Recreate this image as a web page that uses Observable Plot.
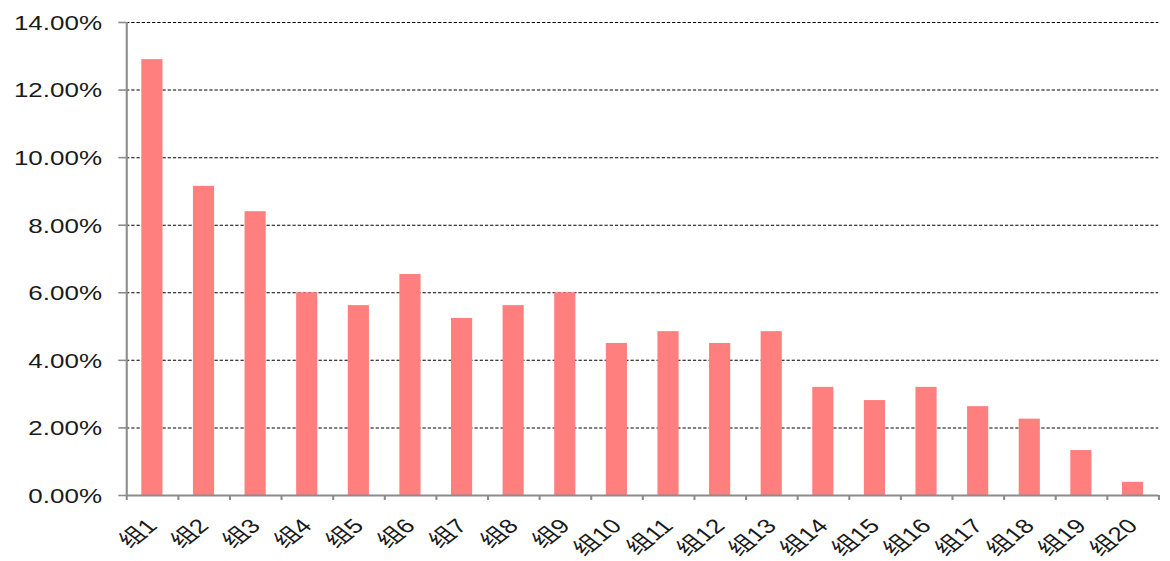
<!DOCTYPE html>
<html><head><meta charset="utf-8">
<script src="https://cdn.jsdelivr.net/npm/d3@7"></script>
<script src="https://cdn.jsdelivr.net/npm/@observablehq/plot@0.6"></script>
<style>body{margin:0;background:#fff}</style>
</head><body><div id="chart"></div>
<script>
const categories = ["组1","组2","组3","组4","组5","组6","组7","组8","组9","组10","组11","组12","组13","组14","组15","组16","组17","组18","组19","组20"];
const values = [12.9, 9.15, 8.4, 6.0, 5.62, 6.54, 5.24, 5.62, 6.0, 4.5, 4.85, 4.5, 4.85, 3.2, 2.81, 3.2, 2.63, 2.26, 1.33, 0.39];
const yTicks = [0, 2, 4, 6, 8, 10, 12, 14];

const data = categories.map((c, i) => ({group: c, value: values[i] / 100}));

const W = 900, H = 561, OUT_W = 1170;
const mL = 97, mR = 9, mT = 22, mB = 66;
const step = (W - mL - mR) / categories.length;
const plotW = W - mL - mR;
const axisColor = "#8c8c8c";

const chart = Plot.plot({
  width: W, height: H,
  marginLeft: mL, marginRight: mR, marginTop: mT, marginBottom: mB,
  style: {fontFamily: "'Liberation Sans', Arial, 'Noto Sans CJK SC', sans-serif", fontSize: "20px", color: "#1a1a1a", background: "#fff"},
  x: {domain: categories, paddingInner: 0.59, paddingOuter: 0.295, round: false, axis: null},
  y: {domain: [0, 0.14], axis: null},
  marks: [
    Plot.ruleY(yTicks.slice(1), {y: d => d / 100, stroke: "#000", strokeWidth: 1, strokeDasharray: "2.5,1.5"}),
    Plot.barY(data, {x: "group", y: "value", fill: "#FF7F7F"}),
    // y axis line and ticks
    Plot.ruleX([categories[0]], {x: d => d, dx: -step / 2, stroke: axisColor, strokeWidth: 1.6}),
    Plot.ruleY(yTicks, {y: d => d / 100, insetLeft: -6, insetRight: plotW, stroke: axisColor, strokeWidth: 1.6}),
    // x axis line and ticks
    Plot.ruleY([0], {stroke: axisColor, strokeWidth: 2.2}),
    Plot.ruleX(categories, {x: d => d, dx: -step / 2, y1: 0, y2: 0, insetBottom: -5, stroke: axisColor, strokeWidth: 1.6}),
    Plot.ruleX([categories[categories.length - 1]], {x: d => d, dx: step / 2, y1: 0, y2: 0, insetBottom: -5, stroke: axisColor, strokeWidth: 1.6}),
    // y labels
    Plot.text(yTicks, {y: d => d / 100, frameAnchor: "left", text: d => d.toFixed(2) + "%", textAnchor: "end", dx: -19, dy: 1, fill: "#1a1a1a"}),
    // x labels
    Plot.text(categories, {x: d => d, frameAnchor: "bottom", text: d => d, rotate: -45, textAnchor: "end", lineAnchor: "middle", dy: 27, fill: "#1a1a1a"})
  ]
});

chart.setAttribute("width", OUT_W);
chart.setAttribute("height", H);
chart.setAttribute("viewBox", `0 0 ${W} ${H}`);
chart.setAttribute("preserveAspectRatio", "none");
chart.style.width = OUT_W + "px";
chart.style.height = H + "px";
chart.style.maxWidth = "none";
document.getElementById("chart").appendChild(chart);
</script>
</body></html>
